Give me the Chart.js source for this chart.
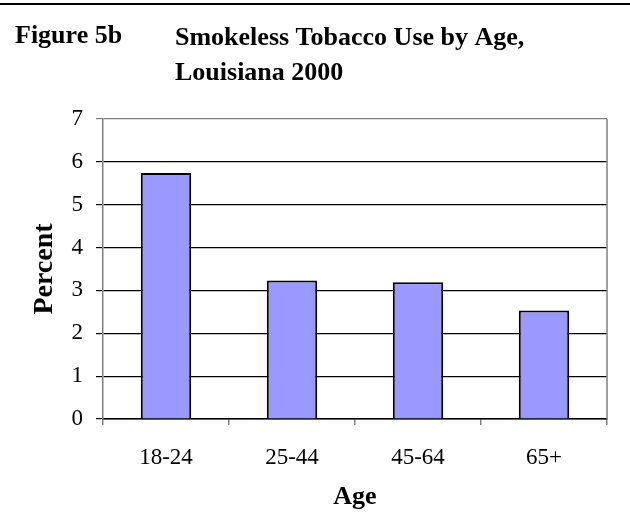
<!DOCTYPE html>
<html>
<head>
<meta charset="utf-8">
<title>Smokeless Tobacco Use by Age, Louisiana 2000</title>
<script src="https://cdn.jsdelivr.net/npm/chart.js@4/dist/chart.umd.min.js"></script>
<style>
  html, body { margin: 0; padding: 0; background: #fff; }
  #wrap { position: relative; width: 630px; height: 517px; }
  canvas { display: block; }
</style>
</head>
<body>
<div id="wrap"><canvas id="chart" width="630" height="517"></canvas></div>
<script>
// Age groups and the share of adults using smokeless tobacco (percent)
const ageGroups = ['18-24', '25-44', '45-64', '65+'];
const usePercent = [5.74, 3.23, 3.19, 2.53];
const yTicks = [0, 1, 2, 3, 4, 5, 6, 7];

const figureLabel = 'Figure 5b';
const titleLines = ['Smokeless Tobacco Use by Age,', 'Louisiana 2000'];

const SERIF = '"Liberation Serif", "Times New Roman", Times, serif';

// Heading text, the rule above it and the right edge of the plot frame
const framePlugin = {
  id: 'frame',
  beforeDatasetsDraw(chart) {
    const { ctx, chartArea } = chart;
    ctx.save();
    ctx.strokeStyle = '#808080';
    ctx.lineWidth = 1.5;
    ctx.beginPath();
    ctx.moveTo(chartArea.right, chartArea.top);
    ctx.lineTo(chartArea.right, chartArea.bottom);
    ctx.stroke();
    ctx.restore();
  },
  afterDraw(chart) {
    const { ctx, width } = chart;
    ctx.save();
    ctx.strokeStyle = '#000';
    ctx.lineWidth = 2;
    ctx.beginPath();
    ctx.moveTo(0, 4);
    ctx.lineTo(width, 4);
    ctx.stroke();

    ctx.fillStyle = '#000';
    ctx.textBaseline = 'alphabetic';
    ctx.textAlign = 'left';
    ctx.font = 'bold 26px ' + SERIF;
    ctx.fillText(figureLabel, 15, 43);
    ctx.fillText(titleLines[0], 175, 45);
    ctx.fillText(titleLines[1], 175, 80);
    ctx.restore();
  }
};

new Chart(document.getElementById('chart'), {
  type: 'bar',
  data: {
    labels: ageGroups,
    datasets: [{
      data: usePercent,
      backgroundColor: '#9999FF',
      borderColor: '#000000',
      borderWidth: 2,
      barPercentage: 0.4,
      categoryPercentage: 1.0
    }]
  },
  options: {
    responsive: false,
    animation: false,
    layout: { padding: { top: 119, right: 23, left: 20, bottom: 0 } },
    plugins: {
      legend: { display: false },
      tooltip: { enabled: false },
      title: { display: false }
    },
    scales: {
      x: {
        afterFit(scale) { scale.height = 98; },
        border: { color: '#000', width: 1.5 },
        grid: {
          offset: true,
          drawOnChartArea: false,
          drawTicks: true,
          tickLength: 6,
          color: '#808080',
          lineWidth: 1.5
        },
        ticks: {
          color: '#000',
          padding: 19,
          font: { family: SERIF, size: 23 }
        },
        title: {
          display: true,
          text: 'Age',
          color: '#000',
          padding: { top: 0, bottom: 4 },
          font: { family: SERIF, size: 26, weight: 'bold' }
        }
      },
      y: {
        min: 0,
        max: 7,
        afterFit(scale) { scale.width = 83; },
        afterBuildTicks(scale) { scale.ticks = yTicks.map(v => ({ value: v })); },
        border: { color: '#808080', width: 1.5 },
        grid: {
          color: ctx => (ctx.tick && ctx.tick.value === 7 ? '#808080' : '#000'),
          lineWidth: 1.2,
          tickLength: 7,
          drawTicks: true
        },
        ticks: {
          color: '#000',
          padding: 13,
          font: { family: SERIF, size: 23 }
        },
        title: {
          display: true,
          text: 'Percent',
          color: '#000',
          padding: { top: 8, bottom: 0 },
          font: { family: SERIF, size: 28, weight: 'bold' }
        }
      }
    }
  },
  plugins: [framePlugin]
});
</script>
</body>
</html>
